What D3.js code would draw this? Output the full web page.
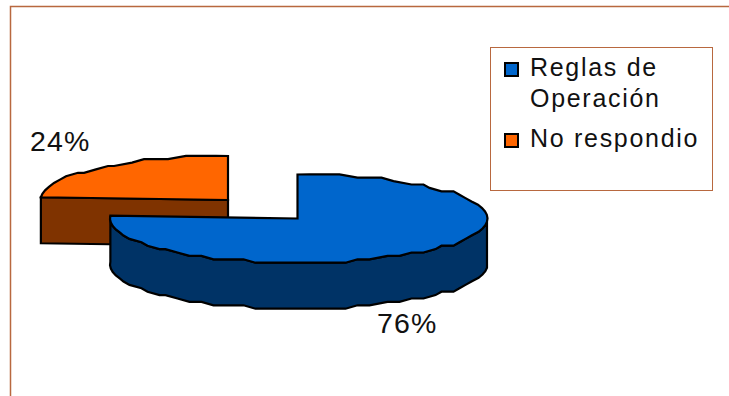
<!DOCTYPE html>
<html><head><meta charset="utf-8">
<script src="https://cdn.jsdelivr.net/npm/d3@7"></script>
<style>html,body{margin:0;padding:0;background:#fff}svg{display:block}text{font-family:"Liberation Sans",Arial,sans-serif;fill:#111}</style>
</head><body><svg id="c" width="729" height="396"></svg>
<script>
const categories = ["Reglas de Operación", "No respondio"];
const legendLines = [["Reglas de", "Operación"], ["No respondio"]];
const values = [76, 24];
const percentLabels = ["76%", "24%"];
const topColors = ["#0066cc", "#ff6600"];
const sideColors = ["#003366", "#7f3300"];
const frameColor = "#b8683f";

const svg = d3.select("#c");
const W = 729, H = 396;
svg.append("path").attr("d", `M10.5 ${H}V6.5H${W}`).attr("fill", "none").attr("stroke", frameColor).attr("stroke-width", 1.5);

const pie = d3.pie().sort(null).value(d => d)(values);
const centres = [{x: 297.5, y: 218.5}, {x: 228, y: 200}];
const rxRight = 190, rxLeft = 187.5, ry = 44, depth = 46;
function snap(v, s) { return Math.round(v / s) * s; }
function rim(c, a0, a1) {
  const n = Math.max(2, Math.round((a1 - a0) / (Math.PI / 40)));
  return d3.range(n + 1).map(i => {
    const a = a0 + (a1 - a0) * i / n;
    const end = i === 0 || i === n;
    const s = Math.sin(a);
    const x = (s >= 0 ? rxRight : rxLeft) * s, y = -ry * Math.cos(a);
    const steep = Math.abs(s) > 0.93;
    return {a, p: [c.x + (end || steep ? x : snap(x, 6)), c.y + (end || steep ? y : snap(y, 3.4))]};
  });
}
const line = d3.line();
const g = svg.append("g").attr("stroke", "#000").attr("stroke-width", 2.2).attr("stroke-linejoin", "miter");

function drawSide(i) {
  const d = pie[i], c = centres[i];
  const pts = rim(c, d.startAngle, d.endAngle);
  if (i === 1) {
    const apex = [c.x, c.y], left = pts[0].p;
    const face = [left, apex, [apex[0], apex[1] + depth], [left[0], left[1] + depth]];
    g.append("path").attr("d", line(face) + "Z").attr("fill", sideColors[i]);
  } else {
    const lower = pts.filter(q => q.a >= Math.PI / 2 - 0.001).map(q => q.p);
    const wall = lower.concat(lower.slice().reverse().map(p => [p[0], p[1] + depth]));
    g.append("path").attr("d", line(wall) + "Z").attr("fill", sideColors[i]);
  }
}
function drawTop(i) {
  const d = pie[i], c = centres[i];
  const pts = rim(c, d.startAngle, d.endAngle).map(q => q.p);
  g.append("path").attr("d", line([[c.x, c.y]].concat(pts)) + "Z").attr("fill", topColors[i]);
}
drawSide(1); drawTop(1); drawSide(0); drawTop(0);

const labelPos = [{x: 377, y: 333}, {x: 30, y: 151}];
svg.selectAll("text.pct").data(percentLabels).join("text").attr("class", "pct")
  .attr("x", (d, i) => labelPos[i].x).attr("y", (d, i) => labelPos[i].y)
  .attr("font-size", 28.5).attr("letter-spacing", 1.2).text(d => d);

svg.append("rect").attr("x", 490.5).attr("y", 47.5).attr("width", 222).attr("height", 143)
  .attr("fill", "#fff").attr("stroke", frameColor).attr("stroke-width", 1);
const rows = [{swatch: 63, lines: [76, 107]}, {swatch: 134, lines: [147]}];
categories.forEach((cat, i) => {
  svg.append("rect").attr("x", 505).attr("y", rows[i].swatch).attr("width", 13).attr("height", 13)
    .attr("fill", topColors[i]).attr("stroke", "#000").attr("stroke-width", 2);
  legendLines[i].forEach((t, k) => svg.append("text").attr("x", 530).attr("y", rows[i].lines[k])
    .attr("font-size", 25).attr("letter-spacing", 1.7).text(t));
});
</script></body></html>
